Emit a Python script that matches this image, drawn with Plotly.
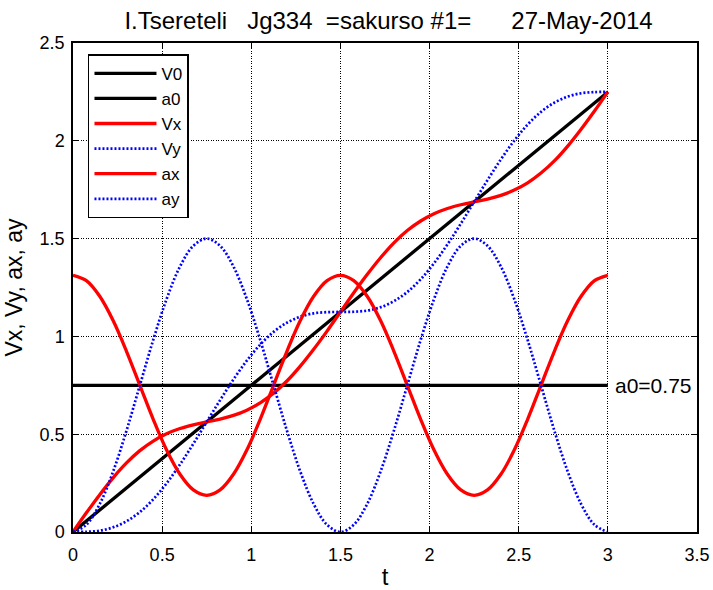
import plotly.graph_objects as go

# sample times
t = [0.0, 0.075, 0.15, 0.225, 0.3, 0.375, 0.45, 0.525, 0.6, 0.675,
     0.75, 0.825, 0.9, 0.975, 1.05, 1.125, 1.2, 1.275, 1.35, 1.425,
     1.5, 1.575, 1.65, 1.725, 1.8, 1.875, 1.95, 2.025, 2.1, 2.175,
     2.25, 2.325, 2.4, 2.475, 2.55, 2.625, 2.7, 2.775, 2.85, 2.925, 3.0]

t_line = [0.0, 3.0]
V0 = [0.0, 2.25]
a0 = [0.75, 0.75]

Vx = [0.000, 0.098, 0.191, 0.277, 0.353, 0.416, 0.465, 0.502, 0.529, 0.548,
      0.563, 0.577, 0.596, 0.623, 0.660, 0.710, 0.772, 0.848, 0.934, 1.027,
      1.125, 1.223, 1.316, 1.402, 1.478, 1.541, 1.590, 1.627, 1.654, 1.673,
      1.688, 1.702, 1.721, 1.748, 1.785, 1.835, 1.897, 1.973, 2.059, 2.152, 2.250]

Vy = [0.000, 0.001, 0.007, 0.024, 0.055, 0.102, 0.167, 0.249, 0.345, 0.451,
      0.563, 0.674, 0.780, 0.876, 0.958, 1.023, 1.070, 1.101, 1.118, 1.124,
      1.125, 1.126, 1.132, 1.149, 1.180, 1.227, 1.292, 1.374, 1.470, 1.576,
      1.688, 1.799, 1.905, 2.001, 2.083, 2.148, 2.195, 2.226, 2.243, 2.249, 2.250]

ax = [1.3125, 1.285, 1.205, 1.081, 0.924, 0.750, 0.576, 0.419, 0.295, 0.215,
      0.1875, 0.215, 0.295, 0.419, 0.576, 0.750, 0.924, 1.081, 1.205, 1.285,
      1.3125, 1.285, 1.205, 1.081, 0.924, 0.750, 0.576, 0.419, 0.295, 0.215,
      0.1875, 0.215, 0.295, 0.419, 0.576, 0.750, 0.924, 1.081, 1.205, 1.285, 1.3125]

ay = [0.000, 0.037, 0.143, 0.309, 0.518, 0.750, 0.982, 1.191, 1.357, 1.463,
      1.500, 1.463, 1.357, 1.191, 0.982, 0.750, 0.518, 0.309, 0.143, 0.037,
      0.000, 0.037, 0.143, 0.309, 0.518, 0.750, 0.982, 1.191, 1.357, 1.463,
      1.500, 1.463, 1.357, 1.191, 0.982, 0.750, 0.518, 0.309, 0.143, 0.037, 0.000]

xticks = [0, 0.5, 1, 1.5, 2, 2.5, 3, 3.5]
yticks = [0, 0.5, 1, 1.5, 2, 2.5]
title_text = "I.Tsereteli   Jg334  =sakurso #1=      27-May-2014"

FONT = "Liberation Sans, Arial, sans-serif"
RED = "#ff0000"
BLUE = "#0000ff"
solid_w = 3.3
dot_w = 2.7
dotdash = "2px,2px"

fig = go.Figure()
fig.add_trace(go.Scatter(x=t_line, y=V0, mode="lines", name="V0",
                         line=dict(color="black", width=solid_w)))
fig.add_trace(go.Scatter(x=t_line, y=a0, mode="lines", name="a0",
                         line=dict(color="black", width=solid_w)))
fig.add_trace(go.Scatter(x=t, y=Vx, mode="lines", name="Vx",
                         line=dict(color=RED, width=solid_w, shape="spline")))
fig.add_trace(go.Scatter(x=t, y=Vy, mode="lines", name="Vy",
                         line=dict(color=BLUE, width=dot_w, dash=dotdash, shape="spline")))
fig.add_trace(go.Scatter(x=t, y=ax, mode="lines", name="ax",
                         line=dict(color=RED, width=solid_w, shape="spline")))
fig.add_trace(go.Scatter(x=t, y=ay, mode="lines", name="ay",
                         line=dict(color=BLUE, width=dot_w, dash=dotdash, shape="spline")))

fig.add_annotation(x=3, y=0.75, xref="x", yref="y", text="a0=0.75",
                   showarrow=False, xanchor="left", yanchor="middle", xshift=5,
                   font=dict(family=FONT, size=21, color="black"))

axis_common = dict(
    showgrid=True, gridcolor="black", gridwidth=1, griddash="1px,1.5px",
    zeroline=False, showline=True, linecolor="black", linewidth=1.5,
    mirror="allticks", ticks="inside", ticklen=5, tickwidth=1, tickcolor="black",
    tickfont=dict(family=FONT, size=18, color="black"), automargin=False,
)

fig.update_xaxes(range=[0, 3.5], tickvals=xticks, ticktext=[f"{v:g}" for v in xticks],
                 ticklabelstandoff=6,
                 title=dict(text="t", font=dict(family=FONT, size=24, color="black"), standoff=8),
                 **axis_common)
fig.update_yaxes(range=[0, 2.5], tickvals=yticks, ticktext=[f"{v:g}" for v in yticks],
                 ticklabelstandoff=3,
                 title=dict(text="Vx, Vy, ax, ay", font=dict(family=FONT, size=23, color="black"), standoff=11),
                 **axis_common)

fig.update_layout(
    width=713, height=590,
    margin=dict(l=73, r=16, t=43, b=58),
    paper_bgcolor="white", plot_bgcolor="white",
    title=dict(text=title_text, x=0.545, xanchor="center", y=0.965, yanchor="middle",
               font=dict(family=FONT, size=24, color="black")),
    showlegend=True,
    legend=dict(x=0.024, y=0.977, xanchor="left", yanchor="top",
                bgcolor="white", bordercolor="black", borderwidth=1.5,
                font=dict(family=FONT, size=17, color="black"),
                itemwidth=62, tracegroupgap=0),
)

fig.write_html("out.html")
